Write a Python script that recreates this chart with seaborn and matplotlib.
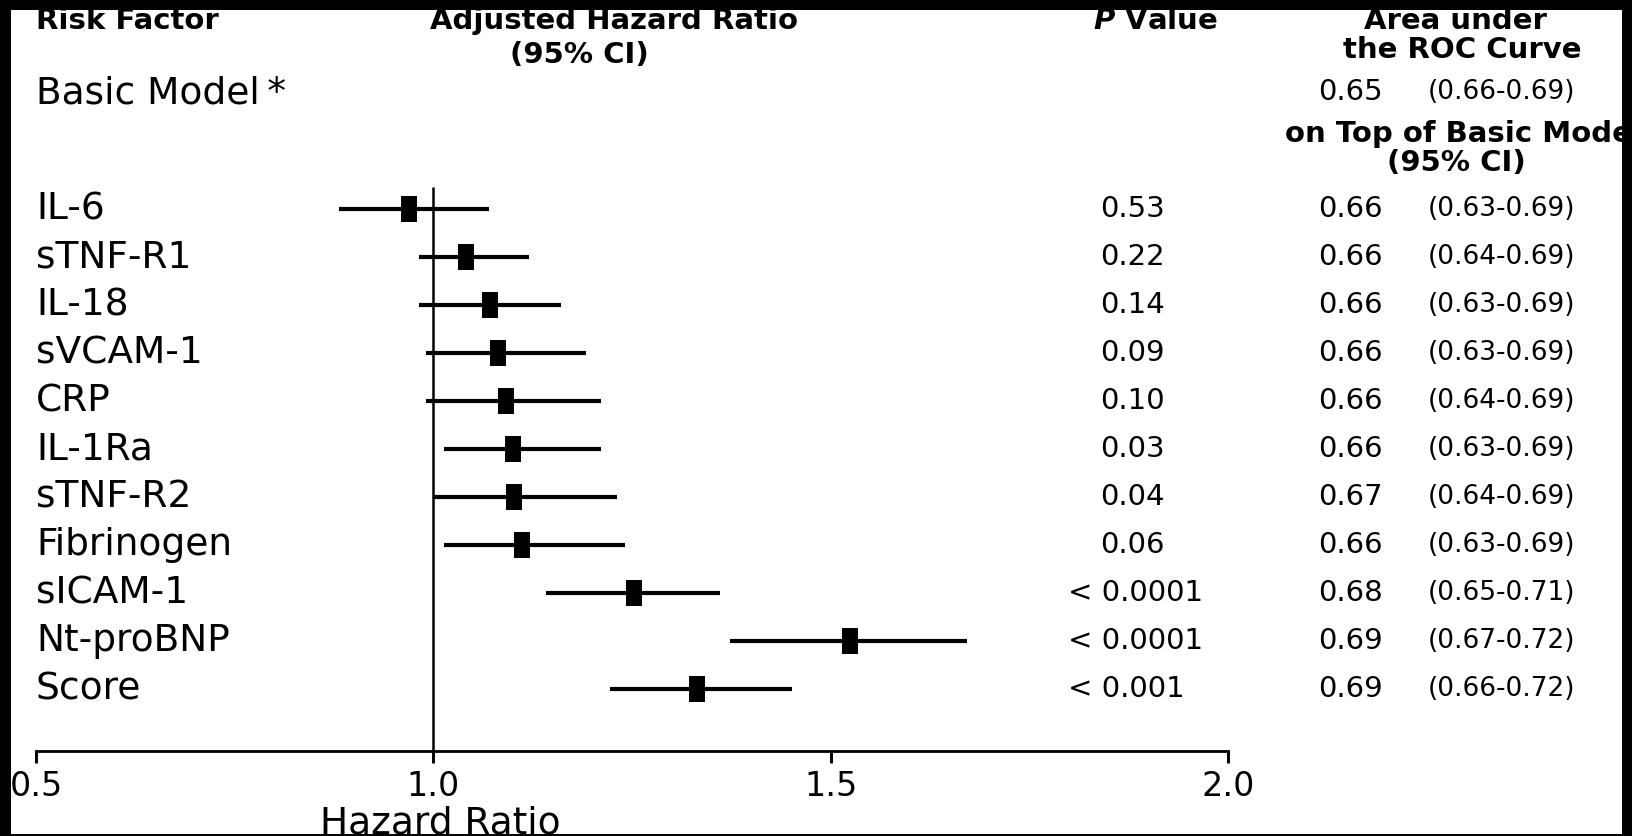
import matplotlib
matplotlib.use("Agg")
import matplotlib.pyplot as plt
import matplotlib.transforms as mtransforms
from matplotlib.patches import Rectangle
import seaborn as sns
import pandas as pd

# ---------------- data ----------------
factors = ["IL-6", "sTNF-R1", "IL-18", "sVCAM-1", "CRP", "IL-1Ra", "sTNF-R2",
           "Fibrinogen", "sICAM-1", "Nt-proBNP", "Score"]
hr = [0.970, 1.041, 1.071, 1.081, 1.091, 1.100, 1.101, 1.112, 1.252, 1.524, 1.332]
hr_lo = [0.881, 0.982, 0.982, 0.991, 0.991, 1.013, 1.001, 1.013, 1.142, 1.373, 1.222]
hr_hi = [1.070, 1.121, 1.161, 1.192, 1.211, 1.211, 1.231, 1.241, 1.361, 1.672, 1.451]
p_values = ["0.53", "0.22", "0.14", "0.09", "0.10", "0.03", "0.04", "0.06",
            "< 0.0001", "< 0.0001", "< 0.001"]
auc = [0.66, 0.66, 0.66, 0.66, 0.66, 0.66, 0.67, 0.66, 0.68, 0.69, 0.69]
auc_lo = [0.63, 0.64, 0.63, 0.63, 0.64, 0.63, 0.64, 0.63, 0.65, 0.67, 0.66]
auc_hi = [0.69, 0.69, 0.69, 0.69, 0.69, 0.69, 0.69, 0.69, 0.71, 0.72, 0.72]
basic_auc = 0.65
basic_auc_lo = 0.66
basic_auc_hi = 0.69
xticks = [0.5, 1.0, 1.5, 2.0]

# ---------------- style ----------------
sns.set_theme(style="ticks")
plt.rcParams["font.family"] = ["DejaVu Sans"]
plt.rcParams["text.color"] = "black"
plt.rcParams["xtick.color"] = "black"
plt.rcParams["xtick.labelcolor"] = "black"
plt.rcParams["axes.labelcolor"] = "black"

W, H = 1632, 836
fig = plt.figure(figsize=(W / 100, H / 100), dpi=100)
fig.patch.set_facecolor("white")

ax_left_px, ax_right_px = 36, 1228
ax_bottom_px, ax_top_px = 751, 10
ax_h_px = ax_bottom_px - ax_top_px
ax = fig.add_axes([ax_left_px / W, 1 - ax_bottom_px / H,
                   (ax_right_px - ax_left_px) / W, ax_h_px / H])
ax.set_facecolor("white")

row0_px, row_step = 209, 48
def px_to_row(p):
    return (p - row0_px) / row_step

df = pd.DataFrame({"factor": factors, "hr": hr, "lo": hr_lo, "hi": hr_hi,
                   "row": list(range(len(factors)))})

# reference line at HR = 1
ax.vlines(1.0, px_to_row(187), px_to_row(ax_bottom_px), color="black", lw=1.8, zorder=1)
# confidence intervals
ax.hlines(df["row"], df["lo"], df["hi"], color="black", lw=3.0, zorder=2)
# point estimates (tall rectangles)
rect_marker = [(-0.32, -0.5), (0.32, -0.5), (0.32, 0.5), (-0.32, 0.5), (-0.32, -0.5)]
sns.scatterplot(data=df, x="hr", y="row", marker=rect_marker, s=330, color="black",
                edgecolor="black", linewidth=0, zorder=3, ax=ax, legend=False)

ax.set_xlim(0.5, 2.0)
ax.set_ylim(px_to_row(ax_bottom_px), px_to_row(ax_top_px))
ax.set_yticks([])
for side in ["top", "right", "left"]:
    ax.spines[side].set_visible(False)
ax.spines["bottom"].set_linewidth(2.0)
ax.spines["bottom"].set_color("black")
ax.spines["bottom"].set_bounds(0.5, 2.0)
ax.set_xticks(xticks)
ax.set_xticklabels([f"{t:.1f}" for t in xticks])
ax.tick_params(axis="x", which="major", direction="out", length=8, width=2.0,
               color="black", labelcolor="black", labelsize=24, pad=6,
               bottom=True, labelbottom=True)
# explicit tick marks hanging below the axis line (data coordinates, outside clip)
ax.vlines(xticks, px_to_row(ax_bottom_px), px_to_row(ax_bottom_px + 12),
          colors="black", lw=2.0, clip_on=False, zorder=5)

ax.set_xlabel("Hazard Ratio", fontsize=27, color="black")
ax.xaxis.set_label_coords((440 - ax_left_px) / (ax_right_px - ax_left_px),
                          (ax_bottom_px - 806) / ax_h_px)
ax.xaxis.label.set_va("top")
ax.set_ylabel("")

# ---------------- text columns ----------------
trans = mtransforms.blended_transform_factory(fig.transFigure, ax.transData)
for i, name in enumerate(factors):
    ax.text(36 / W, i, name, transform=trans, fontsize=27, va="center", ha="left")
    pv = p_values[i]
    px = 1068 if pv.startswith("<") else 1100
    ax.text(px / W, i, pv, transform=trans, fontsize=21, va="center", ha="left")
    ax.text(1318 / W, i, f"{auc[i]:.2f}", transform=trans, fontsize=21, va="center", ha="left")
    ax.text(1428 / W, i, f"({auc_lo[i]:.2f}-{auc_hi[i]:.2f})", transform=trans,
            fontsize=19, va="center", ha="left")

def ftext(xp, yp, s, **kw):
    fig.text(xp / W, 1 - yp / H, s, **kw)

bold = dict(fontsize=21, fontweight="bold", va="center")
ftext(36, 21, "Risk Factor", ha="left", **bold)
ftext(614, 21, "Adjusted Hazard Ratio", ha="center", **bold)
ftext(579, 55, "(95% CI)", ha="center", **bold)
ftext(1155, 21, r"$\bfit{P}$ Value", ha="center", **bold)
ftext(1455, 21, "Area under", ha="center", **bold)
ftext(1462, 50, "the ROC Curve", ha="center", **bold)
ftext(1285, 134, "on Top of Basic Model", ha="left", **bold)
ftext(1456, 163, "(95% CI)", ha="center", **bold)

ftext(36, 94, "Basic Model\u2009*", ha="left", va="center", fontsize=27)
ftext(1318, 92, f"{basic_auc:.2f}", ha="left", va="center", fontsize=21)
ftext(1428, 92, f"({basic_auc_lo:.2f}-{basic_auc_hi:.2f})", ha="left", va="center", fontsize=19)

# ---------------- black frame ----------------
for (x0, y0, w, h) in [(0, 0, W, 10), (0, 0, 11, H), (W - 10, 0, 10, H), (0, H - 2, W, 2)]:
    fig.patches.append(Rectangle((x0 / W, 1 - (y0 + h) / H), w / W, h / H,
                                 transform=fig.transFigure, facecolor="black",
                                 edgecolor="none", zorder=20))

fig.savefig("out.png", dpi=100, facecolor="white")
